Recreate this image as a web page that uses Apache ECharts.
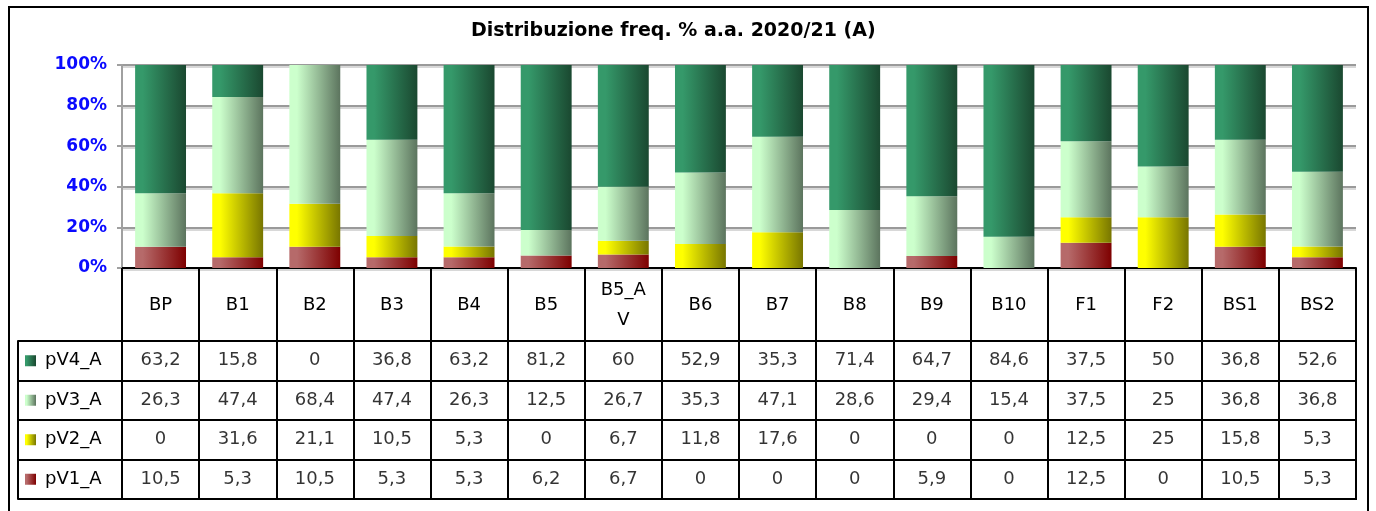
<!DOCTYPE html>
<html>
<head>
<meta charset="utf-8">
<script src="https://cdn.jsdelivr.net/npm/echarts@6/dist/echarts.min.js"></script>
<style>
  html, body { margin: 0; padding: 0; background: #fff; }
  #chart { width: 1376px; height: 511px; }
</style>
</head>
<body>
<div id="chart"></div>
<script>
var categories = ['BP', 'B1', 'B2', 'B3', 'B4', 'B5', 'B5_AV', 'B6', 'B7', 'B8', 'B9', 'B10', 'F1', 'F2', 'BS1', 'BS2'];
var pV4_A = [63.2, 15.8, 0, 36.8, 63.2, 81.2, 60, 52.9, 35.3, 71.4, 64.7, 84.6, 37.5, 50, 36.8, 52.6];
var pV3_A = [26.3, 47.4, 68.4, 47.4, 26.3, 12.5, 26.7, 35.3, 47.1, 28.6, 29.4, 15.4, 37.5, 25, 36.8, 36.8];
var pV2_A = [0, 31.6, 21.1, 10.5, 5.3, 0, 6.7, 11.8, 17.6, 0, 0, 0, 12.5, 25, 15.8, 5.3];
var pV1_A = [10.5, 5.3, 10.5, 5.3, 5.3, 6.2, 6.7, 0, 0, 0, 5.9, 0, 12.5, 0, 10.5, 5.3];
var yTicks = [0, 20, 40, 60, 80, 100];

var seriesNames = ['pV1_A', 'pV2_A', 'pV3_A', 'pV4_A'];
var seriesValues = [pV1_A, pV2_A, pV3_A, pV4_A];

// colori: chiaro a sinistra, scuro a destra
var fills = [
  ['#b66a6a', '#7e0000'],
  ['#ffff00', '#787600'],
  ['#ccffcc', '#5c745e'],
  ['#35996a', '#1a4830']
];
function grad(c){
  return new echarts.graphic.LinearGradient(0, 0, 1, 0, [
    { offset: 0, color: c[0] },
    { offset: 0.15, color: c[0] },
    { offset: 1, color: c[1] }
  ]);
}

// totale per colonna (grafico in pila al 100%)
var totals = [];
for(var i=0; i<categories.length; i++){
  totals.push(pV1_A[i] + pV2_A[i] + pV3_A[i] + pV4_A[i]);
}

var font = 'DejaVu Sans';
var series = [];
var legendRich = {
  nm: { fontFamily: font, fontSize: 18, color: '#000', padding: [0, 0, 0, 9] }
};

for(var s=0; s<seriesNames.length; s++){
  var vals = seriesValues[s];
  var pct = [];
  var cells = [];
  for(var k=0; k<vals.length; k++){
    pct.push(vals[k] / totals[k] * 100);
    cells.push([categories[k], seriesNames[s], vals[k]]);
  }
  series.push({
    name: seriesNames[s],
    type: 'bar',
    stack: 'tot',
    barCategoryGap: '34%',
    xAxisIndex: 0,
    yAxisIndex: 0,
    itemStyle: { color: grad(fills[s]) },
    data: pct
  });
  // valori della tabella sotto il grafico
  series.push({
    name: seriesNames[s] + '_tab',
    type: 'scatter',
    xAxisIndex: 1,
    yAxisIndex: 1,
    symbolSize: 1,
    silent: true,
    itemStyle: { color: 'transparent' },
    label: {
      show: true,
      position: 'inside',
      fontFamily: font,
      fontSize: 18,
      color: '#000',
      formatter: function(p){ return String(p.value[2]).replace('.', ','); }
    },
    data: cells
  });
  legendRich['sq' + s] = { width: 11, height: 11, backgroundColor: grad(fills[s]) };
}

var option = {
  backgroundColor: '#fff',
  animation: false,
  title: {
    text: 'Distribuzione freq. % a.a. 2020/21 (A)',
    left: 466,
    top: 17,
    textStyle: { fontFamily: font, fontSize: 19, fontWeight: 'bold', color: '#000' }
  },
  graphic: [{
    type: 'rect',
    shape: { x: 9, y: 7, width: 1359, height: 520 },
    style: { fill: 'none', stroke: '#000', lineWidth: 2 }
  }],
  grid: [
    { left: 122, right: 20, top: 65, height: 203 },
    { left: 122, right: 20, top: 341, height: 158, show: true, borderColor: '#000', borderWidth: 2 }
  ],
  xAxis: [
    {
      type: 'category',
      gridIndex: 0,
      data: categories,
      axisLine: { lineStyle: { color: '#000', width: 2 } },
      axisTick: { show: true, length: 73, lineStyle: { color: '#000', width: 2 } },
      axisLabel: {
        margin: 37,
        verticalAlign: 'middle',
        fontFamily: font,
        fontSize: 18,
        color: '#000',
        lineHeight: 30,
        width: 47,
        overflow: 'breakAll'
      }
    },
    {
      type: 'category',
      gridIndex: 1,
      data: categories,
      axisLine: { show: false },
      axisTick: { show: false },
      axisLabel: { show: false },
      splitLine: { show: true, interval: 0, lineStyle: { color: '#000', width: 2 } }
    }
  ],
  yAxis: [
    {
      type: 'value',
      gridIndex: 0,
      min: yTicks[0],
      max: yTicks[yTicks.length - 1],
      interval: yTicks[1] - yTicks[0],
      axisLine: { show: true, lineStyle: { color: '#a0a0a0', width: 2 } },
      axisTick: { show: true, length: 5, lineStyle: { color: '#a0a0a0', width: 2 } },
      axisLabel: {
        margin: 15,
        fontFamily: font,
        fontSize: 17,
        fontWeight: 'bold',
        color: '#0a0aff',
        formatter: '{value}%'
      },
      splitLine: {
        show: true,
        lineStyle: { color: '#9a9a9a', width: 2, shadowColor: '#d8d8d8', shadowOffsetY: 2 }
      }
    },
    {
      type: 'category',
      gridIndex: 1,
      data: seriesNames,
      axisLine: { show: false },
      axisTick: { show: true, length: 104, interval: 0, lineStyle: { color: '#000', width: 2 } },
      axisLabel: {
        margin: 97,
        align: 'left',
        formatter: function(v){
          return '{sq' + seriesNames.indexOf(v) + '|}{nm|' + v + '}';
        },
        rich: legendRich
      },
      splitLine: { show: true, interval: 0, lineStyle: { color: '#000', width: 2 } }
    },
    {
      type: 'category',
      gridIndex: 1,
      position: 'left',
      offset: 104,
      data: seriesNames,
      axisLine: { show: true, lineStyle: { color: '#000', width: 2 } },
      axisTick: { show: false },
      axisLabel: { show: false }
    }
  ],
  series: series
};

echarts.init(document.getElementById('chart')).setOption(option);
</script>
</body>
</html>
